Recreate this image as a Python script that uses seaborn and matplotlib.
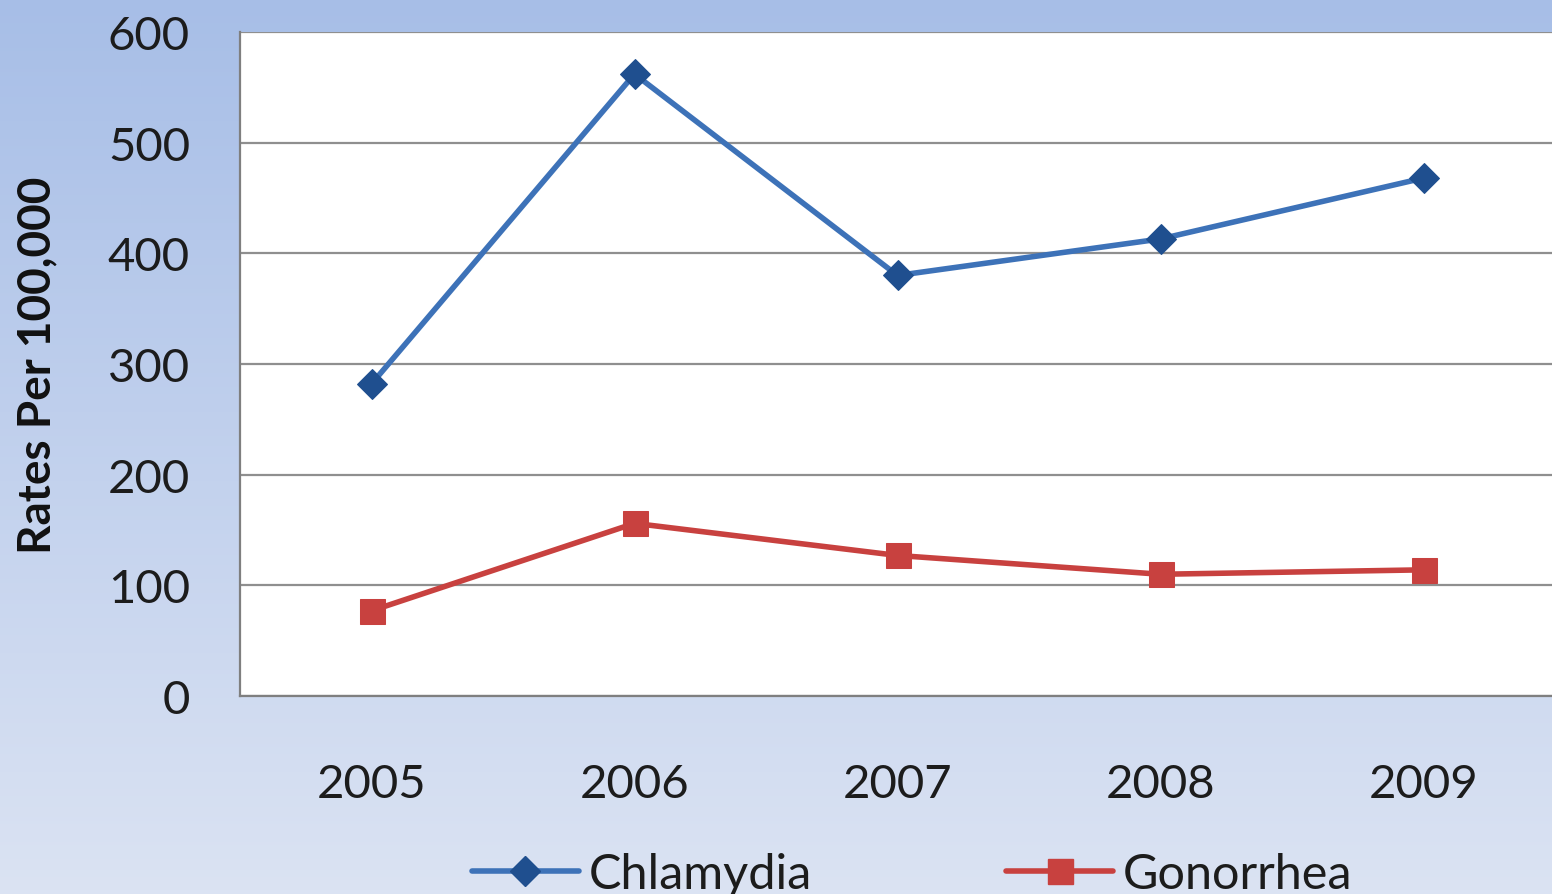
import numpy as np
import pandas as pd
import matplotlib
matplotlib.use("Agg")
import matplotlib.pyplot as plt
import seaborn as sns
from matplotlib.colors import LinearSegmentedColormap

# values
years = [2005, 2006, 2007, 2008, 2009]
chlamydia = [282, 562, 380, 413, 468]
gonorrhea = [77, 156, 127, 110, 114]
series_names = ["Chlamydia", "Gonorrhea"]
y_ticks = [0, 100, 200, 300, 400, 500, 600]

df = pd.DataFrame({
    "year": years * 2,
    "rate": chlamydia + gonorrhea,
    "disease": [series_names[0]] * len(years) + [series_names[1]] * len(years),
})

sns.set_theme(style="white")
plt.rcParams["font.family"] = ["Lato", "DejaVu Sans"]

fig = plt.figure(figsize=(15.52, 8.95), dpi=100)

# gradient background
bg = fig.add_axes([0, 0, 1, 1], zorder=-10)
grad = LinearSegmentedColormap.from_list("bg", ["#a7bee7", "#dbe3f3"])
bg.imshow(np.linspace(0, 1, 256).reshape(-1, 1), aspect="auto", cmap=grad,
          extent=[0, 1, 0, 1])
bg.axis("off")

ax = fig.add_axes([240 / 1552, 198 / 895, 1315 / 1552, 664 / 895])
ax.set_facecolor("white")

line_col = {"Chlamydia": "#3d72b8", "Gonorrhea": "#c8413f"}
marker_face = {"Chlamydia": ("#1f4f8f", 15), "Gonorrhea": ("#c8413f", 18)}

sns.lineplot(data=df, x="year", y="rate", hue="disease", style="disease",
             markers={"Chlamydia": "D", "Gonorrhea": "s"}, dashes=False,
             palette=line_col, linewidth=4.0, ax=ax, legend=False)

for line, name in zip(ax.lines, series_names):
    fc, ms = marker_face[name]
    line.set_markerfacecolor(fc)
    line.set_markeredgecolor(fc)
    line.set_markersize(ms)

ax.set_xlim(2004.5, 2009.5)
ax.set_ylim(0, 600)
ax.set_xticks(years)
ax.set_xticklabels([str(y) for y in years])
ax.set_yticks(y_ticks)
ax.yaxis.grid(True, color="#8f8f8f", linewidth=1.6)
ax.set_axisbelow(True)
for s in ["top", "right"]:
    ax.spines[s].set_visible(False)
for s in ["left", "bottom"]:
    ax.spines[s].set_color("#7f7f7f")
    ax.spines[s].set_linewidth(1.6)
ax.tick_params(axis="y", length=0, pad=36, labelsize=34, labelcolor="#1c1c1c")
ax.tick_params(axis="x", length=0, pad=48, labelsize=34, labelcolor="#1c1c1c")
ax.set_xlabel("")
ax.set_ylabel("")

fig.text(37 / 1552, (895 - 365) / 895, "Rates Per 100,000", rotation=90,
         ha="center", va="center", fontsize=33, fontweight="bold", color="#111111")

handles = [
    plt.Line2D([], [], color=line_col["Chlamydia"], lw=4.0, marker="D", ms=15,
               mfc="#1f4f8f", mec="#1f4f8f"),
    plt.Line2D([], [], color=line_col["Gonorrhea"], lw=4.0, marker="s", ms=18,
               mfc="#c8413f", mec="#c8413f"),
]
fig.legend(handles, series_names, loc="center", ncol=2,
           bbox_to_anchor=(912 / 1552, 20 / 895), frameon=False,
           fontsize=35, handlelength=2.2, handletextpad=0.2,
           columnspacing=4.0, labelcolor="#1c1c1c")

fig.savefig("out.png", dpi=100)
